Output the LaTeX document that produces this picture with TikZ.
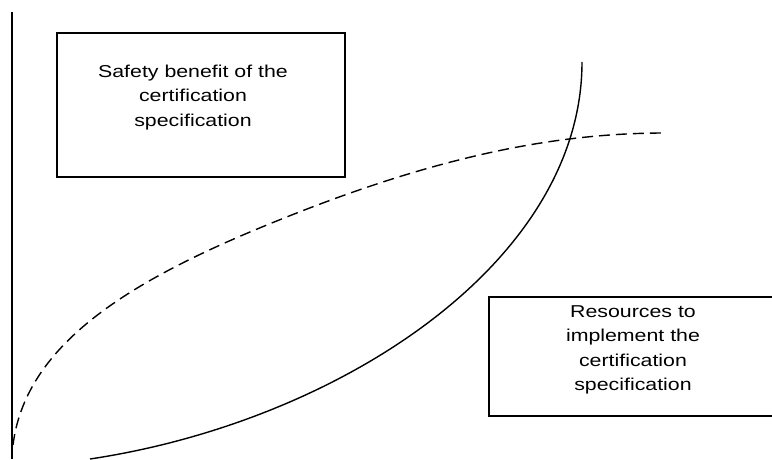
\documentclass[tikz,border=0pt]{standalone}
\usepackage{fontspec}
\setmainfont{Liberation Sans}[FakeStretch=1.24]
\usepackage{tikz}

\tikzset{
  box/.style={draw=black, line width=1.2pt, inner sep=0pt},
  lbl/.style={align=center, inner sep=0pt, anchor=north,
    font=\fontsize{17.2}{24.5}\selectfont},
  curve/.style={line width=1.4pt},
}

\begin{document}
\begin{tikzpicture}[x=1pt,y=1pt]
\useasboundingbox (0,0) rectangle (772,459);
% Drawing axis
\coordinate (axisTop) at (12,447);
\coordinate (axisBot) at (12,0);
\draw[line width=1.3pt] (axisBot) -- (axisTop);
% Drawing boxes
\node[box, minimum width=288pt, minimum height=144pt] (benefitBox) at (201,354) {};
\node[lbl] (benefitText) at (193,394.5) {Safety benefit of the\\certification\\specification};
\node[box, minimum width=291pt, minimum height=119pt] (resourceBox) at (634.5,102.5) {};
\node[lbl] (resourceText) at (633,154) {Resources to\\implement the\\certification\\specification};
% Drawing curves
% benefit (dashed)
\draw[curve, dash pattern=on 11pt off 6pt] (13,14) .. controls (25,110) and (120,172) .. (250,227)
  .. controls (400,290) and (530,326) .. (665,326);
% resources (solid)
\draw[curve] (90,0) .. controls (340,37.5) and (582,197) .. (582,397);
\end{tikzpicture}
\end{document}
